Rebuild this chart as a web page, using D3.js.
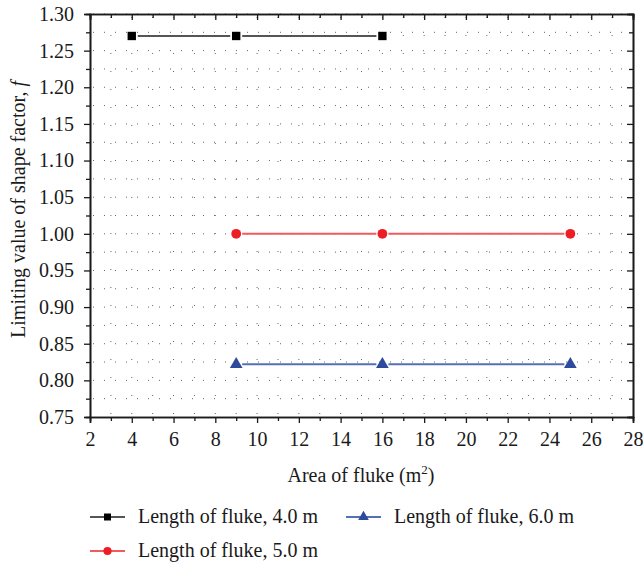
<!DOCTYPE html>
<html>
<head>
<meta charset="utf-8">
<script src="https://cdn.jsdelivr.net/npm/d3@7"></script>
<style>
  body { margin: 0; background: #fff; }
  text { font-family: "Liberation Serif", "Times New Roman", serif; fill: #1a1a1a; }
</style>
</head>
<body>
<div id="chart"></div>
<script>
// data
var xTicks = [2, 4, 6, 8, 10, 12, 14, 16, 18, 20, 22, 24, 26, 28];
var yTicks = [0.75, 0.80, 0.85, 0.90, 0.95, 1.00, 1.05, 1.10, 1.15, 1.20, 1.25, 1.30];
var area4 = [4, 9, 16];
var limit4 = [1.27, 1.27, 1.27];
var area5 = [9, 16, 25];
var limit5 = [1.00, 1.00, 1.00];
var area6 = [9, 16, 25];
var limit6 = [0.822, 0.822, 0.822];

var series = [
    {name: "Length of fluke, 4.0 m", x: area4, y: limit4, line: "#555555", fill: "#000000", shape: d3.symbolSquare, size: 70},
    {name: "Length of fluke, 5.0 m", x: area5, y: limit5, line: "#f25a5f", fill: "#ee1c25", shape: d3.symbolCircle, size: 75},
    {name: "Length of fluke, 6.0 m", x: area6, y: limit6, line: "#5470b8", fill: "#2e4a9c", shape: d3.symbolTriangle, size: 70}
];

var width = 643, height = 567;
var margin = {left: 90, right: 10, top: 14, bottom: 150};
var fontSize = "20px";

var svg = d3.select("#chart").append("svg")
    .attr("width", width)
    .attr("height", height);

var x = d3.scaleLinear().domain([2, 28]).range([margin.left, width - margin.right]);
var y = d3.scaleLinear().domain([0.75, 1.30]).range([height - margin.bottom, margin.top]);

var x0 = x.range()[0], x1 = x.range()[1];
var y0 = y.range()[0], y1 = y.range()[1];

// dotted grid
var xMinor = d3.range(3, 28, 1);
var yMinor = d3.range(0, 22).map(function (i) { return 0.775 + i * 0.025; });

svg.append("g").selectAll("line")
    .data(yMinor)
    .enter().append("line")
    .attr("x1", x0 + 3).attr("x2", x1 - 2)
    .attr("y1", function (d) { return y(d); })
    .attr("y2", function (d) { return y(d); })
    .attr("stroke", "#666")
    .attr("stroke-width", 1)
    .attr("stroke-dasharray", "1,10");

svg.append("g").selectAll("line")
    .data(xMinor)
    .enter().append("line")
    .attr("y1", y1 + 3).attr("y2", y0 - 2)
    .attr("x1", function (d) { return x(d); })
    .attr("x2", function (d) { return x(d); })
    .attr("stroke", "#666")
    .attr("stroke-width", 1)
    .attr("stroke-dasharray", "1,17");

// axes
var oddX = d3.range(3, 28, 2);
var halfY = yMinor.filter(function (d, i) { return i % 2 == 0; });

svg.append("g")
    .attr("transform", "translate(0," + y0 + ")")
    .call(d3.axisBottom(x).tickValues(xTicks).tickSize(6).tickPadding(9).tickFormat(d3.format("d")));
svg.append("g")
    .attr("transform", "translate(0," + y0 + ")")
    .call(d3.axisBottom(x).tickValues(oddX).tickSize(4).tickFormat(""));

svg.append("g")
    .attr("transform", "translate(" + x0 + ",0)")
    .call(d3.axisLeft(y).tickValues(yTicks).tickSize(6).tickPadding(10).tickFormat(d3.format(".2f")));
svg.append("g")
    .attr("transform", "translate(" + x0 + ",0)")
    .call(d3.axisLeft(y).tickValues(halfY).tickSize(4).tickFormat(""));

svg.append("g")
    .attr("transform", "translate(0," + y1 + ")")
    .call(d3.axisBottom(x).tickValues(xTicks).tickSize(6).tickFormat(""));
svg.append("g")
    .attr("transform", "translate(0," + y1 + ")")
    .call(d3.axisBottom(x).tickValues(oddX).tickSize(4).tickFormat(""));

svg.append("g")
    .attr("transform", "translate(" + x1 + ",0)")
    .call(d3.axisLeft(y).tickValues(yTicks).tickSize(6).tickFormat(""));
svg.append("g")
    .attr("transform", "translate(" + x1 + ",0)")
    .call(d3.axisLeft(y).tickValues(halfY).tickSize(4).tickFormat(""));

svg.selectAll(".domain").attr("stroke", "#1a1a1a").attr("stroke-width", 1.6);
svg.selectAll(".tick line").attr("stroke", "#1a1a1a").attr("stroke-width", 1.3);
svg.selectAll(".tick text").style("font-size", fontSize).attr("fill", "#1a1a1a");

// series lines with small gaps at the markers
var gap = 6;
series.forEach(function (s) {
    var g = svg.append("g");
    for (var i = 0; i < s.x.length - 1; i++) {
        g.append("line")
            .attr("x1", x(s.x[i]) + gap)
            .attr("x2", x(s.x[i + 1]) - gap)
            .attr("y1", y(s.y[i]))
            .attr("y2", y(s.y[i + 1]))
            .attr("stroke", s.line)
            .attr("stroke-width", 2);
    }
    g.selectAll("path")
        .data(d3.zip(s.x, s.y))
        .enter().append("path")
        .attr("d", d3.symbol().type(s.shape).size(s.size))
        .attr("transform", function (d) { return "translate(" + x(d[0]) + "," + y(d[1]) + ")"; })
        .attr("fill", s.fill);
});

// axis titles
var xt = svg.append("text")
    .attr("x", 361).attr("y", 482)
    .attr("text-anchor", "middle")
    .style("font-size", fontSize);
xt.append("tspan").text("Area of fluke (m");
xt.append("tspan").text("2").attr("dy", -8).style("font-size", "13px");
xt.append("tspan").text(")").attr("dy", 8);

var yt = svg.append("text")
    .attr("transform", "translate(25," + ((y0 + y1) / 2 - 6) + ") rotate(-90)")
    .attr("text-anchor", "middle")
    .style("font-size", fontSize);
yt.append("tspan").text("Limiting value of shape factor, ");
yt.append("tspan").text("f").style("font-style", "italic");

// legend
var legendPos = [[90, 517], [90, 551], [346, 517]];
series.forEach(function (s, i) {
    var lx = legendPos[i][0], ly = legendPos[i][1];
    var g = svg.append("g").attr("transform", "translate(" + lx + "," + ly + ")");
    g.append("line")
        .attr("x1", 0).attr("x2", 35)
        .attr("y1", 0).attr("y2", 0)
        .attr("stroke", s.line)
        .attr("stroke-width", 2);
    g.append("path")
        .attr("d", d3.symbol().type(s.shape).size(s.size * 0.7))
        .attr("transform", "translate(17.5,0)")
        .attr("fill", s.fill);
    g.append("text")
        .attr("x", 48).attr("y", 6)
        .style("font-size", fontSize)
        .text(s.name);
});
</script>
</body>
</html>
